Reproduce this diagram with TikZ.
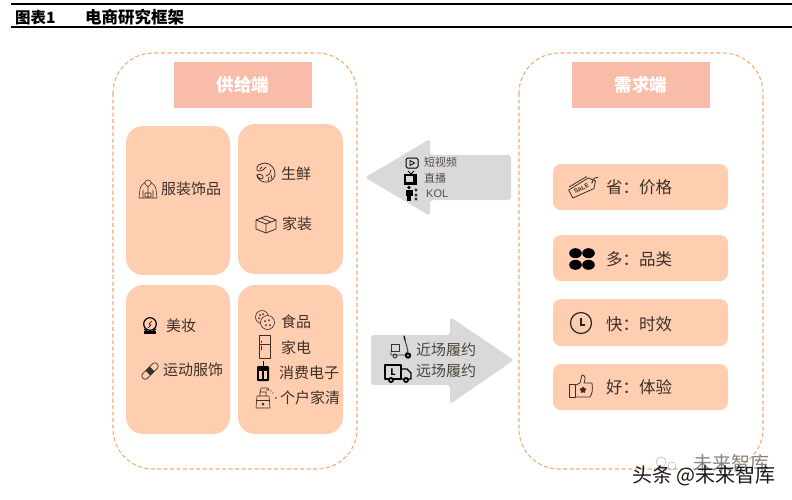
\documentclass[tikz,border=0pt]{standalone}
\usepackage{fontspec}
\setmainfont{Noto Sans CJK SC}
\newfontfamily\latinf{Liberation Sans}
\usetikzlibrary{shapes.geometric}
\definecolor{peach}{HTML}{FFCDB0}
\definecolor{salmon}{HTML}{F9BCA8}
\definecolor{dashc}{HTML}{F4AC78}
\definecolor{arrowg}{HTML}{D9D9D9}
\definecolor{ink}{HTML}{3A3028}
\tikzset{
  x=1pt,y=-1pt,
  frame/.style={draw=dashc,dash pattern=on 4pt off 2.5pt,line width=1.1pt,rounded corners=40pt,fill=white},
  headbox/.style={fill=salmon,draw=none,minimum width=138pt,minimum height=46pt,inner sep=0pt,text=white,font=\fontsize{17.5}{18}\selectfont\bfseries},
  tile/.style={fill=peach,rounded corners=17pt},
  card/.style={fill=peach,rounded corners=8pt},
  lab/.style={text=ink,inner sep=0pt,anchor=west,font=\fontsize{15}{15}\selectfont},
  cardlab/.style={text=ink,inner sep=0pt,anchor=west,font=\fontsize{16.5}{17}\selectfont},
  small/.style={text=ink!85,inner sep=0pt,anchor=west,font=\fontsize{11}{11}\selectfont},
  mid/.style={text=ink!90,inner sep=0pt,anchor=west,font=\fontsize{15}{15}\selectfont},
  ic/.style={draw=ink,line width=0.7pt,line join=round,line cap=round},
  icb/.style={draw=black,line width=1pt,line join=round},
}
\begin{document}
\begin{tikzpicture}
\useasboundingbox (0,0) rectangle (792,499);
\fill[white] (0,0) rectangle (792,499);
% header
\coordinate (hl1) at (11,3.7); \coordinate (hr1) at (792,3.7);
\coordinate (hl2) at (11,27.2); \coordinate (hr2) at (792,27.2);
\draw[line width=1.6pt] (hl1) -- (hr1);
\draw[line width=1.6pt] (hl2) -- (hr2);
\node[inner sep=0pt,anchor=west,font=\fontsize{15.5}{16}\selectfont\bfseries] (tnum) at (15,17.5) {图表1};
\node[inner sep=0pt,anchor=west,font=\fontsize{16.5}{17}\selectfont\bfseries] (ttitle) at (85,17.5) {电商研究框架};
% frames
\draw[frame] (113,53) rectangle (357,469);
\draw[frame] (519,53) rectangle (763,469);
\node[headbox] (sup) at (243,85) {供给端};
\node[headbox] (dem) at (641,85) {需求端};
% tiles
\fill[tile] (126,126) rectangle (230,275);
\fill[tile] (238,124) rectangle (343,274);
\fill[tile] (126,285) rectangle (230,434);
\fill[tile] (238,285) rectangle (343,434);
\node[lab] (a1) at (161,189) {服装饰品};
\node[lab] (a2) at (281,174) {生鲜};
\node[lab] (a3) at (282,224) {家装};
\node[lab] (a4) at (166,326) {美妆};
\node[lab] (a5) at (163,370) {运动服饰};
\node[lab] (a6) at (281,322) {食品};
\node[lab] (a7) at (281,348) {家电};
\node[lab] (a8) at (279,373) {消费电子};
\node[lab] (a9) at (280,398) {个户家清};
% gray arrows
\fill[arrowg,rounded corners=3pt] (511,155) -- (430,155) -- (430,139) -- (365,177.5) -- (430,216) -- (430,200) -- (511,200) -- cycle;
\fill[arrowg,rounded corners=3pt] (371,335) -- (450,335) -- (450,317) -- (514,360) -- (450,404) -- (450,385) -- (371,385) -- cycle;
\node[small] (b1) at (424,162) {短视频};
\node[small] (b2) at (424,178) {直播};
\node[small,font=\fontsize{11}{11}\latinf] (b3) at (426,194) {KOL};
\node[mid] (c1) at (416,350) {近场履约};
\node[mid] (c2) at (416,371) {远场履约};
% cards
\fill[card] (553,164) rectangle (728,210);
\fill[card] (553,235) rectangle (728,281);
\fill[card] (553,299) rectangle (728,346);
\fill[card] (553,364) rectangle (728,410);
\node[cardlab] (d1) at (606,187) {省：价格};
\node[cardlab] (d2) at (606,259) {多：品类};
\node[cardlab] (d3) at (606,324) {快：时效};
\node[cardlab] (d4) at (606,387) {好：体验};
% --- icons ---
% hoodie
\begin{scope}[shift={(148,189)},ic,line width=.6pt]
\draw (-9,9) -- (-8,0) .. controls (-7,-4) and (-5,-5) .. (-3.5,-6) .. controls (-2,-10) and (2,-10) .. (3.5,-6) .. controls (5,-5) and (7,-4) .. (8,0) -- (9,9) -- cycle;
\draw (-5,9) -- (-5,1) (5,9) -- (5,1) (-3.5,-6) -- (0,-2) -- (3.5,-6) (0,-2) -- (0,9) (-3,4) rectangle (3,8);
\end{scope}
% shrimp
\begin{scope}[shift={(266,173)},ic,line width=.8pt]
\draw (-1,-10) .. controls (5,-10) and (10,-3) .. (9,2) .. controls (8,7) and (3,10) .. (-2,9) .. controls (-6,8) and (-9,5) .. (-9,2);
\draw (-9,2) .. controls (-5,0) and (-2,3) .. (-3,5) .. controls (-5,7) and (-8,5) .. (-9,2);
\draw (-1,-10) .. controls (-6,-9) and (-10,-8) .. (-9,-3) .. controls (-7,-1) and (-3,-2) .. (0,-6);
\draw (0,3) .. controls (3,2) and (5,0) .. (5,-3) (2,8) -- (3,4) (6,6) -- (5,2) (-4,-6) -- (-6,-4);
\end{scope}
% box
\begin{scope}[shift={(266,224)},ic,line width=.8pt]
\draw (-10,-4) -- (0,-8) -- (10,-4) -- (10,5) -- (0,9) -- (-10,5) -- cycle;
\draw (-10,-4) -- (0,0) -- (10,-4) (0,0) -- (0,9) (-5,-6) -- (5,-2);
\end{scope}
% mirror
\begin{scope}[shift={(150,325)}]
\draw[icb,line width=1.2pt] (0,-1) circle (6.3);
\draw[icb,line width=.6pt] (2,-4) -- (-1,-1) -- (1,0) -- (-2,3);
\fill[black] (-6,6) rectangle (6,8.5);
\draw[icb] (-6,4) -- (-3,6) (6,4) -- (3,6);
\end{scope}
% bandage
\begin{scope}[shift={(150,371)},rotate=45,ic]
\draw[rounded corners=2.5pt] (-10,-3.2) rectangle (10,3.2);
\fill[ink] (-3,-3.2) rectangle (3,3.2);
\end{scope}
% cookies
\begin{scope}[shift={(265,320)},ic,line width=.6pt]
\draw (-3,-3) circle (6.5);
\draw[fill=peach] (2.5,2.5) circle (7);
\foreach \p in {(-5,-5),(-2,-6),(-6,-2),(0,1),(4,0),(1,5),(5,5)} \fill[ink] \p circle (1);
\end{scope}
% fridge
\begin{scope}[shift={(265,347)},ic,line width=.6pt]
\draw (-5.5,-11.5) rectangle (5.5,11.5);
\draw (-5.5,-3) -- (5.5,-3) (-3.5,-6) -- (-3.5,-4.5) (-3.5,-1) -- (-3.5,3);
\end{scope}
% device
\begin{scope}[shift={(263,373)}]
\fill[black,rounded corners=1pt] (-6,-7) rectangle (6,8);
\fill[peach] (-4,-2) rectangle (-.6,5.5);
\fill[peach] (.6,-2) rectangle (4,5.5);
\draw[black,line width=.8pt] (0,-12) -- (0,-7);
\end{scope}
% spray bottle
\begin{scope}[shift={(263,398)},ic,line width=.6pt]
\draw (-6,-2) -- (6,-2) -- (7,10) -- (-7,10) -- cycle;
\draw (-3,-2) -- (-3,-6) -- (3,-6) -- (3,-2) (-3,-6) -- (-2,-10) -- (5,-10) -- (6,-8) -- (3,-8);
\draw (-6.5,2) -- (6.5,2);
\fill[ink] (0,6) circle (1.5);
\fill[ink] (8,-7) circle (.6) (10,-5) circle (.6) (13,0) circle (.8);
\end{scope}
% play icon
\begin{scope}[shift={(412,163)}]
\draw[black,line width=1pt,rounded corners=1.5pt] (-6,-5) rectangle (6,5);
\draw[black,line width=.8pt] (-2,-2.5) -- (2.5,0) -- (-2,2.5) -- cycle;
\end{scope}
% TV
\begin{scope}[shift={(411,178)}]
\draw[black,line width=.8pt] (-3,-7) -- (0,-4) -- (3,-7);
\fill[black] (-7,-4) rectangle (6,7);
\fill[arrowg] (-5,-2) rectangle (2,4);
\end{scope}
% person
\begin{scope}[shift={(409,194)}]
\fill[black] (0,-6.5) circle (1.8);
\fill[black] (-3.5,-4) rectangle (3.5,2);
\fill[black] (-2,2) rectangle (-.3,7);
\fill[black] (.3,2) rectangle (2,7);
\foreach \q in {-4,1,5}{\draw[black,line width=.5pt] (7,\q) circle (1.2);}
\end{scope}
% scooter
\begin{scope}[shift={(400,349)},ic,line width=.9pt]
\draw (-9,-5) rectangle (-1,2);
\draw (-9,2) -- (-9,6) -- (5,6) -- (8,2) -- (5,-9);
\draw[black,line width=1.2pt] (5,-9) -- (4,-13);
\draw (-5,7) circle (2);
\fill[black] (8,6.5) circle (3.2);
\fill[arrowg] (8,6.5) circle (1);
\end{scope}
% truck
\begin{scope}[shift={(398,373)}]
\draw[icb,line width=1.4pt] (-13,-8) rectangle (3,6);
\node[inner sep=0pt,font=\fontsize{9}{9}\selectfont\bfseries\itshape] (lmark) at (-5,-1) {L};
\draw[icb,line width=1.4pt] (3,-4) -- (9,-4) -- (13,0) -- (13,6) -- (3,6);
\fill[black] (-7,7) circle (3) (8,7) circle (3);
\fill[white] (-7,7) circle (1) (8,7) circle (1);
\end{scope}
% tag
\begin{scope}[shift={(584,187)},rotate=28,ic,line width=.8pt]
\draw (-15,-4.5) -- (8,-6) -- (13,0) -- (8,6) -- (-15,4.5) -- cycle;
\draw (-13,-7) -- (7,-8);
\fill[ink] (9,0) circle (.8);
\draw (9.5,0) .. controls (12,-4) and (15,-3) .. (17,-2);
\node[inner sep=0pt,rotate=28,text=ink,font=\fontsize{6}{6}\latinf\bfseries] (salemark) at (-3,0) {SALE};
\end{scope}
% blobs
\begin{scope}[shift={(582,259)}]
\foreach \xx/\yy in {-6.5/-5.8,6.5/-5.8,-6.5/5.8,6.5/5.8}{\fill[black] (\xx,\yy) ellipse (6.3 and 5);}
\end{scope}
% clock
\begin{scope}[shift={(581,323)}]
\draw[black!85,line width=1.2pt] (0,0) circle (10.5);
\draw[black!85,line width=1.2pt] (0,-5.5) -- (0,2) -- (4,2);
\end{scope}
% thumb
\begin{scope}[shift={(582,387)},ic,line width=.8pt]
\draw (-13,-3) rectangle (-7,10);
\draw (-6,-2) -- (-2,-4) -- (0,-12) .. controls (3,-12) and (4,-9) .. (2,-4) -- (10,-4) .. controls (11,3) and (10,7) .. (8,10) -- (-6,10);
\node[star,star points=5,fill=ink,draw=none,inner sep=0pt,minimum size=7pt] (starmark) at (1,3) {};
\end{scope}
% watermark
\node[inner sep=0pt,anchor=west,text=ink!60,font=\fontsize{19}{19}\selectfont] (w2) at (693,463) {未来智库};
\draw[black!35,line width=.4pt] (661,462) circle (5);
\draw[black!35,line width=.4pt] (672,466) circle (4);
\node[inner sep=0pt,anchor=west,text=black!90,font=\fontsize{20}{20}\selectfont] (w1) at (632,476) {头条 @未来智库};
\end{tikzpicture}
\end{document}
